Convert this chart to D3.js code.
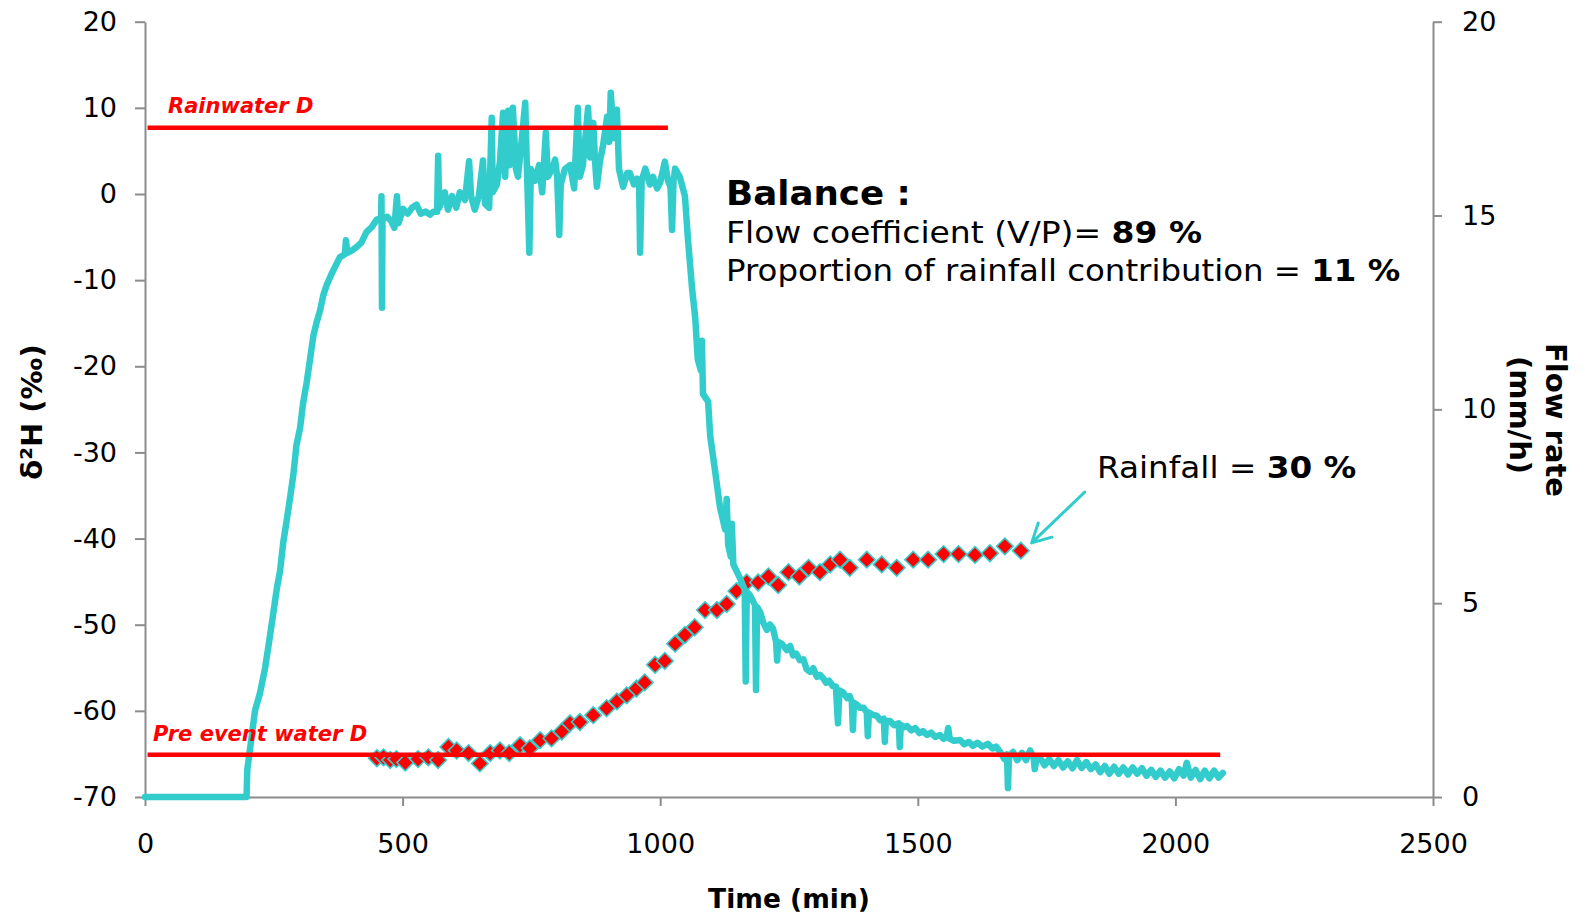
<!DOCTYPE html>
<html>
<head>
<meta charset="utf-8">
<script src="https://cdn.jsdelivr.net/npm/d3@7"></script>
<style>
  body { margin: 0; background: #fff; }
  svg text { font-family: "DejaVu Sans", Verdana, sans-serif; fill: #000; }
</style>
</head>
<body>
<div id="chart"></div>
<script>
// flow rate (mm/h, right axis) against time (min) as [time, rate]
const flowSeries = [
    [0, 0], [197, 0], [198.6, 0.71], [204, 1.25], [213.5, 2.23], [223, 2.67], [233, 3.32], [243, 4.19],
    [249, 4.74], [256, 5.39], [262, 5.82], [268.5, 6.58], [275, 7.13], [281, 7.67], [288, 8.32], [294, 9.08],
    [301, 9.52], [307, 10.17], [314, 10.71], [320, 11.26], [327, 11.91], [333, 12.24], [340, 12.56],
    [346, 12.94], [353, 13.22], [362, 13.49], [372, 13.76], [378, 13.92], [388, 14.0], [390, 14.36],
    [393, 14.04], [402, 14.1], [411, 14.19], [420, 14.3], [430, 14.58], [440, 14.7], [450, 14.9],
    [458, 14.92], [459, 15.5], [460, 12.62], [461, 14.92], [470, 14.97], [478, 14.85], [484, 14.68],
    [489, 15.5], [492, 14.8], [501, 15.17], [510, 15.05], [518, 15.2], [527, 15.28], [535, 15.05],
    [545, 15.1], [553, 15.02], [560, 15.1], [567, 15.1], [569, 16.54], [571, 15.2], [582, 15.6],
    [588, 15.15], [596, 15.5], [604, 15.2], [611, 15.6], [621, 15.4], [629, 16.4], [633, 15.5],
    [640, 15.15], [648, 15.5], [656, 16.42], [660, 15.3], [668, 15.2], [673, 17.52], [675, 15.6],
    [683, 15.8], [689, 16.4], [695, 17.65], [699, 16.0], [705, 17.7], [708, 16.3], [714, 17.78],
    [720, 16.2], [724, 16.0], [730, 16.8], [738, 17.91], [741, 16.36], [746, 14.04], [749, 16.2],
    [757, 15.9], [765, 16.3], [771, 15.6], [778, 17.14], [782, 16.0], [790, 16.2], [796, 16.44],
    [800, 16.0], [804, 14.5], [807, 15.8], [815, 16.2], [825, 16.3], [833, 15.7], [840, 17.78],
    [844, 16.0], [850, 16.3], [860, 17.78], [864, 16.5], [870, 17.39], [874, 16.3], [877, 15.74],
    [883, 16.4], [889, 16.8], [897, 17.55], [901, 16.9], [904, 18.17], [910, 17.0], [916, 17.73],
    [920, 16.2], [928, 15.74], [936, 16.1], [941, 16.1], [949, 15.8], [955, 15.95], [959, 15.9],
    [961, 14.04], [964, 15.9], [971, 16.21], [980, 15.8], [986, 16.0], [994, 15.7], [1000, 15.85],
    [1009, 16.39], [1015, 15.9], [1020, 15.74], [1023, 14.63], [1026, 15.9], [1029, 16.21],
    [1038, 16.0], [1048, 15.5], [1054, 14.37], [1062, 13.1], [1068, 12.36], [1073, 11.28],
    [1079, 11.0], [1081, 11.77], [1083, 10.4], [1093, 10.2], [1097, 9.32], [1106, 8.46], [1116, 7.48],
    [1126, 6.9], [1129, 7.69], [1132, 6.5], [1137, 6.2], [1139, 7.05], [1142, 6.0], [1155, 5.64],
    [1164, 5.35], [1166, 2.98], [1168, 5.3], [1174, 5.21], [1184, 4.95], [1186, 2.76], [1188, 4.9],
    [1194, 4.77], [1200, 4.5], [1207, 4.31], [1213, 4.45], [1219, 4.34], [1225, 4.0], [1227, 3.52],
    [1229, 4.0], [1236, 3.95], [1246, 3.79], [1252, 3.9], [1258, 3.65], [1264, 3.7], [1271, 3.53],
    [1278, 3.55], [1284, 3.3], [1291, 3.23], [1297, 3.32], [1304, 3.1], [1310, 3.15], [1316, 3.07],
    [1322, 2.95], [1328, 3.0], [1335, 2.86], [1341, 2.85], [1345, 1.9], [1348, 2.75], [1355, 2.7],
    [1363, 2.55], [1368, 2.6], [1372, 2.45], [1374, 1.73], [1376, 2.43], [1382, 2.38], [1388, 2.3],
    [1395, 2.3], [1401, 2.18], [1403, 1.57], [1405, 2.18], [1413, 2.12], [1420, 2.1], [1427, 1.98],
    [1434, 2.02], [1436, 1.42], [1438, 1.97], [1446, 1.96], [1454, 1.85], [1463, 1.9], [1465, 1.29],
    [1467, 1.86], [1473, 1.8], [1479, 1.83], [1487, 1.72], [1495, 1.78], [1503, 1.65], [1510, 1.7],
    [1518, 1.6], [1526, 1.66], [1534, 1.55], [1543, 1.6], [1550, 1.5], [1556, 1.55], [1559, 1.78],
    [1562, 1.5], [1570, 1.45], [1582, 1.47], [1590, 1.36], [1599, 1.42], [1607, 1.32], [1616, 1.4],
    [1625, 1.3], [1636, 1.37], [1645, 1.25], [1652, 1.3], [1660, 1.16], [1668, 0.98], [1673, 1.1],
    [1675, 0.23], [1677, 1.05], [1685, 1.16], [1693, 0.95], [1702, 1.14], [1710, 0.95], [1718, 1.2],
    [1725, 1.0], [1727, 0.72], [1730, 0.95], [1737, 1.02], [1746, 0.82], [1755, 0.98], [1764, 0.8],
    [1773, 0.95], [1782, 0.76], [1791, 0.92], [1800, 0.74], [1809, 0.95], [1818, 0.75], [1827, 0.9],
    [1836, 0.72], [1845, 0.84], [1854, 0.64], [1863, 0.8], [1872, 0.6], [1881, 0.78], [1890, 0.6],
    [1899, 0.76], [1908, 0.58], [1917, 0.76], [1926, 0.6], [1935, 0.74], [1944, 0.55], [1953, 0.7],
    [1962, 0.52], [1971, 0.68], [1980, 0.5], [1989, 0.66], [1998, 0.48], [2007, 0.72], [2016, 0.55],
    [2022, 0.88], [2030, 0.5], [2039, 0.7], [2048, 0.46], [2057, 0.68], [2066, 0.48], [2075, 0.68],
    [2084, 0.5], [2092, 0.62]
];

// deuterium of the runoff (left axis)
const isoTime = [450, 463, 476, 488, 505, 530, 550, 569, 589, 605, 628, 650, 670, 689, 707, 728, 747, 767, 789, 809, 825, 844, 870, 896, 916, 935, 954, 970, 990, 1009, 1029, 1048, 1067, 1087, 1110, 1129, 1148, 1168, 1190, 1210, 1229, 1249, 1270, 1288, 1310, 1330, 1349, 1368, 1401, 1430, 1459, 1491, 1520, 1550, 1579, 1611, 1640, 1669, 1700];
const isoD = [-65.5, -65.4, -65.7, -65.6, -66.0, -65.6, -65.4, -65.7, -64.2, -64.6, -64.9, -66.1, -64.9, -64.6, -64.9, -64.0, -64.35, -63.4, -63.2, -62.4, -61.45, -61.3, -60.5, -59.7, -58.9, -58.2, -57.4, -56.7, -54.65, -54.2, -52.2, -51.2, -50.3, -48.3, -48.3, -47.6, -46.1, -45.1, -45.1, -44.4, -45.4, -43.9, -44.4, -43.4, -43.9, -43.0, -42.45, -43.4, -42.45, -43.0, -43.4, -42.45, -42.45, -41.8, -41.8, -41.9, -41.7, -40.9, -41.4];

// end-member reference lines
const refNames = ["Rainwater D", "Pre event water D"];
const refD = [7.7, -65.1];
const refStart = [5, 5];
const refEnd = [1015, 2087];

const xTicks = [0, 500, 1000, 1500, 2000, 2500];
const yLeftTicks = [-70, -60, -50, -40, -30, -20, -10, 0, 10, 20];
const yRightTicks = [0, 5, 10, 15, 20];

const W = 1585, H = 914;
const cyan = "#33cccc", red = "#ff0000", axisGrey = "#8c8c8c";

const svg = d3.select("#chart").append("svg")
    .attr("width", W).attr("height", H);

const x = d3.scaleLinear().domain([0, 2500]).range([145, 1433]);
const yL = d3.scaleLinear().domain([-70, 20]).range([797, 21.7]);
const yR = d3.scaleLinear().domain([0, 20]).range([797, 21.7]);

const plain = d => String(d); // plain hyphen, no thousands separator

// axes
function styleAxis(g) {
    g.selectAll("path, line").attr("stroke", axisGrey).attr("stroke-width", 2);
    g.selectAll("text").style("font-size", "27px").attr("fill", "#000");
}
svg.append("g")
    .attr("transform", `translate(0,${yL(-70)})`)
    .call(d3.axisBottom(x).tickValues(xTicks).tickFormat(plain).tickSize(9).tickSizeOuter(0).tickPadding(28))
    .call(styleAxis);
svg.append("g")
    .attr("transform", `translate(${x(0)},0)`)
    .call(d3.axisLeft(yL).tickValues(yLeftTicks).tickFormat(plain).tickSize(10).tickSizeOuter(0).tickPadding(18))
    .call(styleAxis);
svg.append("g")
    .attr("transform", `translate(${x(2500)},0)`)
    .call(d3.axisRight(yR).tickValues(yRightTicks).tickFormat(plain).tickSize(9).tickSizeOuter(0).tickPadding(20))
    .call(styleAxis);

// axis titles
svg.append("text")
    .attr("x", (x(0) + x(2500)) / 2).attr("y", 898)
    .attr("text-anchor", "middle").attr("dominant-baseline", "central")
    .style("font-size", "26.5px").style("font-weight", "bold")
    .text("Time (min)");
svg.append("text")
    .attr("transform", "translate(32,412) rotate(-90)")
    .attr("text-anchor", "middle").attr("dominant-baseline", "central")
    .style("font-size", "29px").style("font-weight", "bold")
    .text("δ²H (‰)");
svg.append("text")
    .attr("transform", "translate(1556,420) rotate(90)")
    .attr("text-anchor", "middle").attr("dominant-baseline", "central")
    .style("font-size", "29px").style("font-weight", "bold")
    .text("Flow rate");
svg.append("text")
    .attr("transform", "translate(1520,415) rotate(90)")
    .attr("text-anchor", "middle").attr("dominant-baseline", "central")
    .style("font-size", "29px").style("font-weight", "bold")
    .text("(mm/h)");

// isotope diamonds
const isoData = isoTime.map((t, i) => ({ t, d: isoD[i] }));
svg.append("g").selectAll("path")
    .data(isoData)
    .enter().append("path")
    .attr("d", d3.symbol().type(d3.symbolSquare).size(138))
    .attr("transform", d => `translate(${x(d.t)},${yL(d.d)}) rotate(45)`)
    .attr("fill", red)
    .attr("stroke", cyan)
    .attr("stroke-width", 1.6);

// flow rate line
svg.append("path")
    .datum(flowSeries)
    .attr("fill", "none")
    .attr("stroke", cyan)
    .attr("stroke-width", 6.5)
    .attr("stroke-linejoin", "round")
    .attr("stroke-linecap", "round")
    .attr("d", d3.line().x(d => x(d[0])).y(d => yR(d[1])));

// reference lines with labels
refD.forEach((v, i) => {
    svg.append("line")
        .attr("x1", x(refStart[i])).attr("x2", x(refEnd[i]))
        .attr("y1", yL(v)).attr("y2", yL(v))
        .attr("stroke", red).attr("stroke-width", 4.5);
});
svg.append("text")
    .attr("x", 168).attr("y", 113)
    .style("font-size", "21px").style("font-weight", "bold").style("font-style", "italic")
    .style("fill", red)
    .text(refNames[0]);
svg.append("text")
    .attr("x", 153).attr("y", 741)
    .style("font-size", "21px").style("font-weight", "bold").style("font-style", "italic")
    .style("fill", red)
    .text(refNames[1]);

// balance block
const bal = svg.append("g").attr("transform", "translate(726,0) scale(1.08,1)");
bal.append("text").attr("x", 0).attr("y", 205)
    .style("font-size", "33px").style("font-weight", "bold")
    .text("Balance :");
const l2 = bal.append("text").attr("x", 0).attr("y", 281).style("font-size", "30px");
l2.append("tspan").text("Proportion of rainfall contribution = ");
l2.append("tspan").style("font-weight", "bold").text("11 %");

const l1 = svg.append("g").attr("transform", "translate(726,0) scale(1.1,1)")
    .append("text").attr("x", 0).attr("y", 243).style("font-size", "30px");
l1.append("tspan").text("Flow coefficient (V/P)= ");
l1.append("tspan").style("font-weight", "bold").text("89 %");

const l3 = svg.append("g").attr("transform", "translate(1097,0) scale(1.09,1)")
    .append("text").attr("x", 0).attr("y", 478).style("font-size", "30px");
l3.append("tspan").text("Rainfall = ");
l3.append("tspan").style("font-weight", "bold").text("30 %");

// arrow pointing to last diamond
const arrowFrom = { t: 1824, d: -34.6 }, arrowTo = { t: 1721, d: -40.5 };
const ax0 = x(arrowFrom.t), ay0 = yL(arrowFrom.d), ax1 = x(arrowTo.t), ay1 = yL(arrowTo.d);
const ang = Math.atan2(ay0 - ay1, ax0 - ax1);
const barb = 21, spread = 28 * Math.PI / 180;
svg.append("path")
    .attr("d", `M${ax0},${ay0}L${ax1},${ay1}` +
        `M${ax1 + barb * Math.cos(ang - spread)},${ay1 + barb * Math.sin(ang - spread)}` +
        `L${ax1},${ay1}L${ax1 + barb * Math.cos(ang + spread)},${ay1 + barb * Math.sin(ang + spread)}`)
    .attr("fill", "none").attr("stroke", cyan).attr("stroke-width", 3)
    .attr("stroke-linecap", "round").attr("stroke-linejoin", "round");
</script>
</body>
</html>
